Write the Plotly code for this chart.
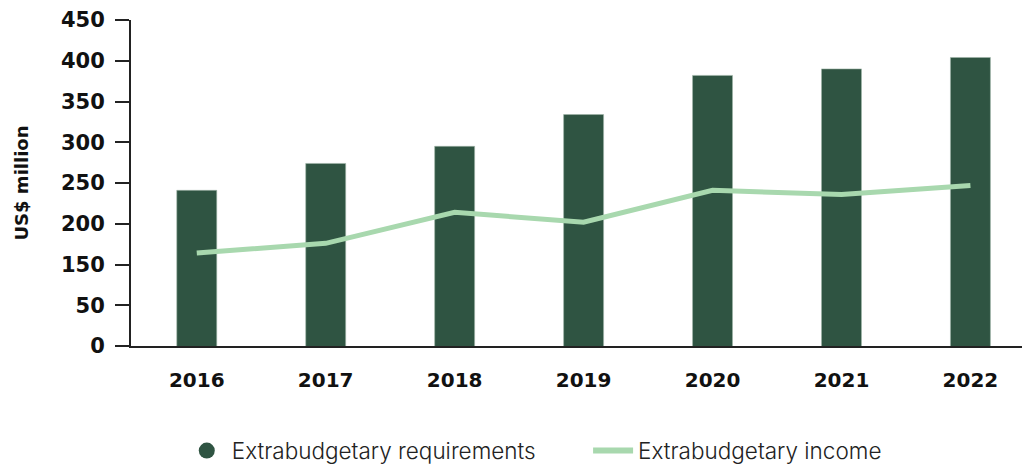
import plotly.graph_objects as go

years = ["2016", "2017", "2018", "2019", "2020", "2021", "2022"]
requirements = [241, 274, 295, 334, 382, 390, 404]
income = [164, 176, 214, 202, 241, 236, 247]
tick_vals = [50, 100, 150, 200, 250, 300, 350, 400, 450]
tick_text = ["0", "50", "150", "200", "250", "300", "350", "400", "450"]

bar_color = "#2F5442"
line_color = "#A8D8AE"
axis_color = "#222222"
bold_font = "DejaVu Sans, sans-serif"
legend_font = dict(size=22.5, color="#222222", family="Inter, sans-serif", weight=300)

fig = go.Figure()
fig.add_trace(go.Bar(
    x=years, y=requirements, name="Extrabudgetary requirements",
    marker=dict(color=bar_color, line=dict(color="#9fb5a8", width=0.6)),
    showlegend=False,
))
fig.add_trace(go.Scatter(
    x=years, y=income, name="Extrabudgetary income", mode="lines",
    line=dict(color=line_color, width=5), showlegend=False,
))
# legend entries
fig.add_trace(go.Scatter(
    x=[None], y=[None], mode="markers", name="Extrabudgetary requirements",
    marker=dict(symbol="circle", size=22, color=bar_color), legend="legend",
))
fig.add_trace(go.Scatter(
    x=[None], y=[None], mode="lines", name="Extrabudgetary income",
    line=dict(color=line_color, width=6), legend="legend2",
))

fig.update_layout(
    width=1024, height=465,
    margin=dict(l=131, r=2, t=20, b=119, autoexpand=False),
    paper_bgcolor="white", plot_bgcolor="white",
    font=dict(family="Inter, sans-serif", color="#111111"),
    bargap=0.69,
    showlegend=True,
    legend=dict(
        orientation="h", x=0.057, xanchor="left", y=-0.322, yanchor="middle",
        font=legend_font, itemwidth=40,
    ),
    legend2=dict(
        orientation="h", x=0.513, xanchor="left", y=-0.322, yanchor="middle",
        font=legend_font, itemwidth=40,
    ),
)
fig.update_xaxes(
    type="category", range=[-0.51, 6.4],
    showline=True, linecolor=axis_color, linewidth=2,
    ticks="", showgrid=False,
    tickfont=dict(size=20, family=bold_font, color="#111111", weight="bold"),
    ticklabelstandoff=15,
)
fig.update_yaxes(
    range=[50, 450], tickvals=tick_vals, ticktext=tick_text,
    showline=True, linecolor=axis_color, linewidth=2,
    ticks="outside", ticklen=14, tickwidth=2, tickcolor=axis_color,
    showgrid=False, zeroline=False, ticklabelstandoff=6,
    tickfont=dict(size=21, family=bold_font, color="#111111", weight="bold"),
    title=dict(text="US$ million", font=dict(size=18, family=bold_font, weight="bold"), standoff=28),
)

fig.write_html("out.html")
